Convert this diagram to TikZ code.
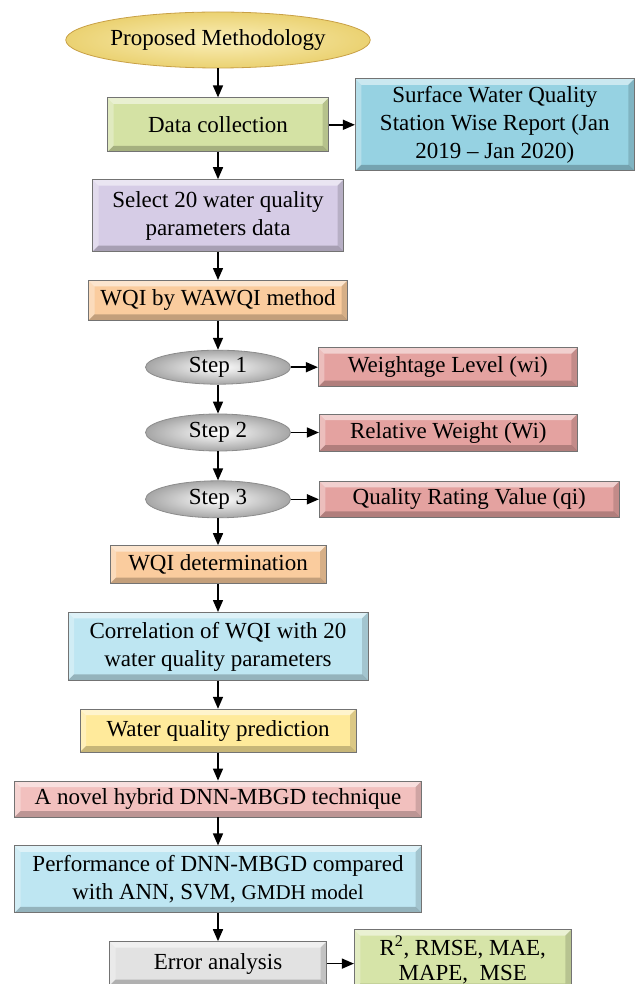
\documentclass[tikz,border=0pt]{standalone}
\usepackage{fontspec}
\setmainfont{Liberation Serif}
\usepackage{tikz}
\usetikzlibrary{arrows.meta,positioning,shapes.geometric}

\definecolor{startfill}{RGB}{246,226,128}
\definecolor{startrim}{RGB}{200,160,70}
\definecolor{collectfill}{RGB}{212,226,164}
\definecolor{sourcefill}{RGB}{150,210,226}
\definecolor{choosefill}{RGB}{214,204,230}
\definecolor{wqifill}{RGB}{250,204,158}
\definecolor{weightfill}{RGB}{228,162,160}
\definecolor{corrfill}{RGB}{190,230,242}
\definecolor{predictfill}{RGB}{255,234,155}
\definecolor{hybridfill}{RGB}{242,192,190}
\definecolor{errfill}{RGB}{226,226,226}
\definecolor{metricfill}{RGB}{214,228,168}

\begin{document}
\begin{tikzpicture}[
  font=\fontsize{23}{28}\selectfont,
  bevel/.style={draw=black!55, line width=0.8pt, inner sep=0pt, align=center,
    path picture={
      \fill[white, opacity=0.5] (path picture bounding box.north west) -- (path picture bounding box.north east)
        -- ([shift={(-6pt,-6pt)}]path picture bounding box.north east) -- ([shift={(6pt,-6pt)}]path picture bounding box.north west) -- cycle;
      \fill[white, opacity=0.3] (path picture bounding box.north west) -- ([shift={(6pt,-6pt)}]path picture bounding box.north west)
        -- ([shift={(6pt,6pt)}]path picture bounding box.south west) -- (path picture bounding box.south west) -- cycle;
      \fill[black, opacity=0.22] (path picture bounding box.south west) -- (path picture bounding box.south east)
        -- ([shift={(-6pt,6pt)}]path picture bounding box.south east) -- ([shift={(6pt,6pt)}]path picture bounding box.south west) -- cycle;
      \fill[black, opacity=0.14] (path picture bounding box.north east) -- (path picture bounding box.south east)
        -- ([shift={(-6pt,6pt)}]path picture bounding box.south east) -- ([shift={(-6pt,-6pt)}]path picture bounding box.north east) -- cycle;
    }},
  term/.style={ellipse, draw=startrim, line width=0.8pt, inner sep=0pt,
    inner color=startfill!55!white, outer color=startfill!75!startrim},
  stage/.style={ellipse, draw=black!45, line width=0.8pt, inner sep=0pt,
    minimum width=145pt, inner color=white, outer color=black!35},
  collect/.style={bevel, fill=collectfill},
  source/.style={bevel, fill=sourcefill},
  choose/.style={bevel, fill=choosefill},
  wqi/.style={bevel, fill=wqifill},
  weight/.style={bevel, fill=weightfill},
  corr/.style={bevel, fill=corrfill},
  predict/.style={bevel, fill=predictfill},
  hybrid/.style={bevel, fill=hybridfill},
  errbox/.style={bevel, fill=errfill},
  metric/.style={bevel, fill=metricfill},
  flow/.style={-{Triangle[length=12pt,width=10pt]}, line width=1.5pt, draw=black}
]
\useasboundingbox (0,0) rectangle (634pt,-984pt);

\node[term, minimum width=281pt, minimum height=56pt] (start) at (218pt,-40pt) {Proposed Methodology};
\node[collect, minimum width=221pt, minimum height=54pt, below=29pt of start] (collect) {Data collection};
\node[source, minimum width=279pt, minimum height=92pt, right=26pt of collect] (report) {Surface Water Quality\\Station Wise Report (Jan\\2019 -- Jan 2020)};
\node[choose, minimum width=251pt, minimum height=72pt, below=27pt of collect] (select) {Select 20 water quality\\parameters data};
\node[wqi, minimum width=259pt, minimum height=40pt, below=28pt of select] (wawqi) {WQI by WAWQI method};
\node[stage, minimum height=34pt, below=29pt of wawqi] (stepone) {Step 1};
\node[weight, minimum width=259pt, minimum height=39pt, right=27pt of stepone] (wlevel) {Weightage Level (wi)};
\node[stage, minimum height=37pt, below=29pt of stepone] (steptwo) {Step 2};
\node[weight, minimum width=258pt, minimum height=37pt, right=28pt of steptwo] (rweight) {Relative Weight (Wi)};
\node[stage, minimum height=37pt, below=29pt of steptwo] (stepthree) {Step 3};
\node[weight, minimum width=300pt, minimum height=36pt, right=28pt of stepthree] (qrating) {Quality Rating Value (qi)};
\node[wqi, minimum width=216pt, minimum height=38pt, below=27pt of stepthree] (wqidet) {WQI determination};
\node[corr, minimum width=300pt, minimum height=68pt, below=28pt of wqidet] (correl) {Correlation of WQI with 20\\water quality parameters};
\node[predict, minimum width=276pt, minimum height=43pt, below=28pt of correl] (predict) {Water quality prediction};
\node[hybrid, minimum width=407pt, minimum height=36pt, below=28pt of predict] (hybrid) {A novel hybrid DNN-MBGD technique};
\node[corr, minimum width=407pt, minimum height=67pt, below=28pt of hybrid] (perform) {Performance of DNN-MBGD compared\\with ANN, SVM, {\fontsize{21}{28}\selectfont GMDH model}};
\node[errbox, minimum width=217pt, minimum height=44pt, below=28pt of perform] (error) {Error analysis};
\node[metric, minimum width=217pt, minimum height=60pt, right=27pt of error, yshift=4pt,
  font=\fontsize{23}{25}\selectfont] (metrics) {R\textsuperscript{2}, RMSE, MAE,\\MAPE,\ \ MSE};

\draw[flow] (start) -- (collect);
\draw[flow] (collect) -- (report);
\draw[flow] (collect) -- (select);
\draw[flow] (select) -- (wawqi);
\draw[flow] (wawqi) -- (stepone);
\draw[flow] (stepone) -- (wlevel);
\draw[flow] (stepone) -- (steptwo);
\draw[flow] (steptwo) -- (rweight);
\draw[flow] (steptwo) -- (stepthree);
\draw[flow] (stepthree) -- (qrating);
\draw[flow] (stepthree) -- (wqidet);
\draw[flow] (wqidet) -- (correl);
\draw[flow] (correl) -- (predict);
\draw[flow] (predict) -- (hybrid);
\draw[flow] (hybrid) -- (perform);
\draw[flow] (perform) -- (error);
\draw[flow] (error) -- (error -| metrics.west);
\end{tikzpicture}
\end{document}
